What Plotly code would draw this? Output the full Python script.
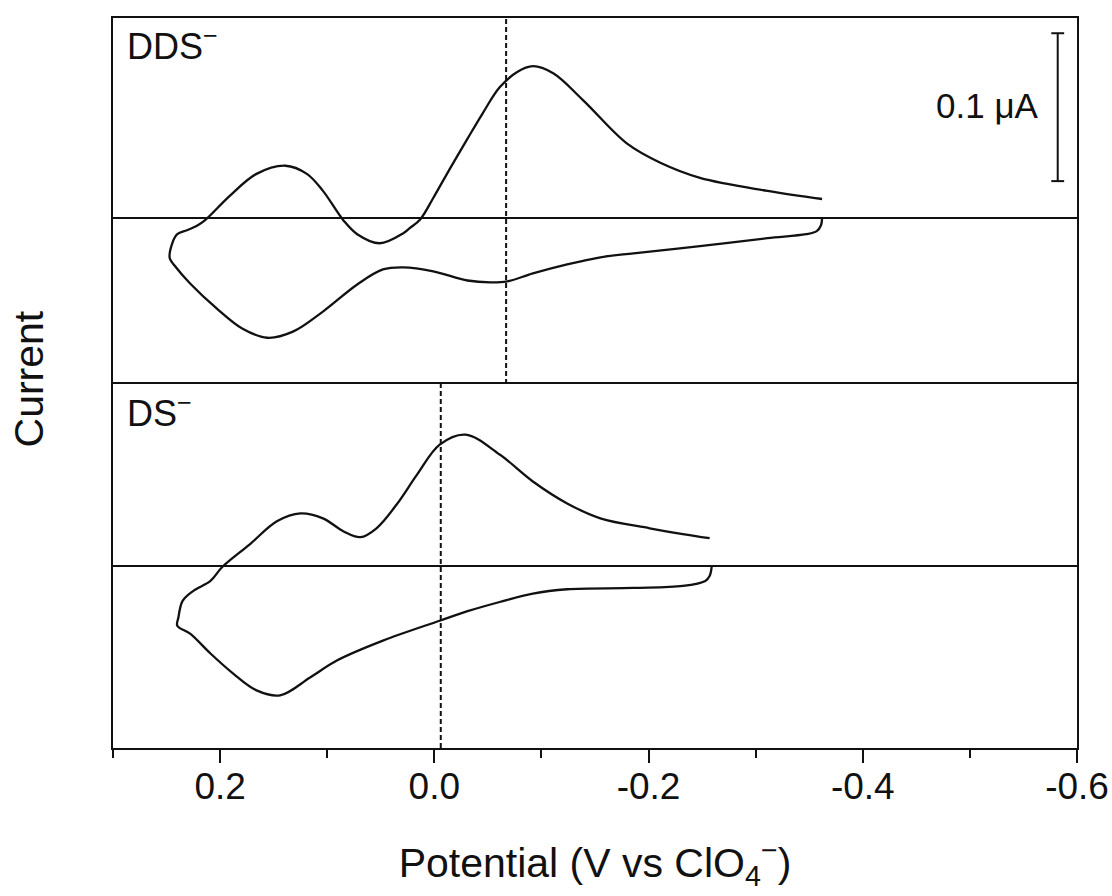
import plotly.graph_objects as go

# DDS- cyclic voltammogram (potential in V vs ClO4-, current in nA)
dds_potential = [-0.362, -0.361, -0.357, -0.347, -0.311, -0.248, -0.186, -0.155, -0.124, -0.092,
                 -0.068, -0.052, -0.031, 0.001, 0.029, 0.048, 0.072, 0.104, 0.132, 0.156,
                 0.179, 0.203, 0.228, 0.242, 0.247, 0.245, 0.240, 0.231, 0.222, 0.214,
                 0.191, 0.166, 0.139, 0.119, 0.104, 0.085, 0.072, 0.051, 0.029, 0.023,
                 0.013, 0.001, -0.015, -0.031, -0.045, -0.061, -0.077, -0.092, -0.111, -0.139,
                 -0.180, -0.211, -0.248, -0.311, -0.362]
dds_current = [0.0, -4.8, -8.8, -10.9, -13.6, -19.0, -23.8, -26.5, -31.3, -37.4,
               -42.8, -43.5, -42.2, -36.0, -33.3, -34.7, -44.9, -63.2, -76.8, -80.9,
               -74.8, -61.2, -44.2, -32.6, -27.2, -17.7, -10.9, -8.2, -5.4, -1.4,
               15.0, 29.9, 35.4, 29.9, 18.4, -1.4, -10.9, -17.0, -10.2, -6.8,
               -0.7, 13.6, 34.0, 53.7, 70.7, 88.4, 98.6, 102.7, 97.9, 79.6,
               50.3, 37.4, 27.2, 18.4, 12.9]

# DS- cyclic voltammogram
ds_potential = [-0.259, -0.257, -0.253, -0.232, -0.186, -0.124, -0.092, -0.061, -0.031, -0.005,
                0.048, 0.091, 0.116, 0.144, 0.166, 0.188, 0.209, 0.228, 0.240, 0.239,
                0.235, 0.225, 0.209, 0.198, 0.172, 0.147, 0.125, 0.104, 0.085, 0.069,
                0.054, 0.035, 0.016, -0.005, -0.029, -0.061, -0.092, -0.124, -0.155, -0.201,
                -0.232, -0.257]
ds_current = [0.0, -6.8, -10.2, -13.6, -15.0, -15.9, -18.8, -24.6, -30.9, -37.4,
              -51.0, -64.6, -76.2, -88.4, -85.0, -73.4, -59.8, -46.2, -40.8, -35.4,
              -23.8, -17.0, -10.2, -0.7, 15.0, 30.6, 36.0, 32.6, 23.8, 19.7,
              25.8, 42.2, 62.6, 83.0, 89.8, 76.2, 57.8, 42.8, 32.6, 25.8,
              21.8, 19.0]

# Formal potentials (dashed lines)
dds_e0 = -0.067
ds_e0 = -0.006

# Scale bar (0.1 uA = 100 nA)
scalebar_x = -0.582
scalebar_y = [25.0, 125.0]
scalebar_label = "0.1 \u03bcA"

x_range = [0.3, -0.6]
major_ticks = [0.2, 0.0, -0.2, -0.4, -0.6]
major_text = ["0.2", "0.0", "-0.2", "-0.4", "-0.6"]
minor_ticks = [0.3, 0.1, -0.1, -0.3, -0.5]

top_range = [-112.2, 135.3]
bot_range = [-124.4, 124.4]

FONT = "Liberation Sans, Arial, sans-serif"
BLACK = "#111111"

fig = go.Figure()
line = dict(color=BLACK, width=2.3, shape="spline", smoothing=1.0)
fig.add_trace(go.Scatter(x=dds_potential, y=dds_current, mode="lines", line=line,
                         xaxis="x2", yaxis="y2", showlegend=False, hoverinfo="skip"))
fig.add_trace(go.Scatter(x=ds_potential, y=ds_current, mode="lines", line=line,
                         xaxis="x", yaxis="y", showlegend=False, hoverinfo="skip"))

shapes = []
# baselines
shapes.append(dict(type="line", xref="x2 domain", yref="y2", x0=0, x1=1, y0=0, y1=0,
                   line=dict(color=BLACK, width=2)))
shapes.append(dict(type="line", xref="x domain", yref="y", x0=0, x1=1, y0=0, y1=0,
                   line=dict(color=BLACK, width=2)))
# dashed lines
shapes.append(dict(type="line", xref="x2", yref="y2 domain", x0=dds_e0, x1=dds_e0, y0=0, y1=1,
                   line=dict(color=BLACK, width=2, dash="5px,3px")))
shapes.append(dict(type="line", xref="x", yref="y domain", x0=ds_e0, x1=ds_e0, y0=0, y1=1,
                   line=dict(color=BLACK, width=2, dash="5px,3px")))
# scale bar
cap = 0.006
shapes.append(dict(type="line", xref="x2", yref="y2", x0=scalebar_x, x1=scalebar_x,
                   y0=scalebar_y[0], y1=scalebar_y[1], line=dict(color=BLACK, width=2)))
for yv in scalebar_y:
    shapes.append(dict(type="line", xref="x2", yref="y2", x0=scalebar_x - cap, x1=scalebar_x + cap,
                       y0=yv, y1=yv, line=dict(color=BLACK, width=2)))

annotations = [
    dict(text=scalebar_label, xref="x2", yref="y2", x=scalebar_x + 0.016, y=sum(scalebar_y) / 2 + 1,
         xanchor="right", yanchor="middle", showarrow=False, font=dict(family=FONT, size=35, color=BLACK)),
    dict(text="DDS<sup>\u2212</sup>", xref="paper", yref="paper", x=0.012, y=0.964,
         xanchor="left", yanchor="middle", showarrow=False, font=dict(family=FONT, size=36, color=BLACK)),
    dict(text="DS<sup>\u2212</sup>", xref="paper", yref="paper", x=0.012, y=0.462,
         xanchor="left", yanchor="middle", showarrow=False, font=dict(family=FONT, size=36, color=BLACK)),
    dict(text="Current", xref="paper", yref="paper", x=-0.087, y=0.505, textangle=-90,
         xanchor="center", yanchor="middle", showarrow=False, font=dict(family=FONT, size=41, color=BLACK)),
]

axis_common = dict(showline=True, linecolor=BLACK, linewidth=2,
                   showgrid=False, zeroline=False, automargin=False)

fig.update_layout(
    width=1112, height=896,
    margin=dict(l=113, r=35, t=18, b=148),
    paper_bgcolor="white", plot_bgcolor="white",
    font=dict(family=FONT, color=BLACK),
    shapes=shapes, annotations=annotations,
    xaxis=dict(**axis_common, mirror=True, range=x_range, anchor="y", domain=[0, 1],
               tickmode="array", tickvals=major_ticks, ticktext=major_text,
               ticks="outside", ticklen=13, tickwidth=2, tickcolor=BLACK,
               ticklabelstandoff=-8,
               tickfont=dict(family=FONT, size=37, color=BLACK),
               minor=dict(tickmode="array", tickvals=minor_ticks, ticks="outside",
                          ticklen=8, tickwidth=2, tickcolor=BLACK),
               title=dict(text="Potential (V vs ClO<sub>4</sub><sup>\u2212</sup>)",
                          font=dict(family=FONT, size=41, color=BLACK), standoff=42)),
    xaxis2=dict(**axis_common, mirror=False, side="top", range=x_range, anchor="y2", matches="x",
                showticklabels=False, ticks=""),
    yaxis=dict(**axis_common, mirror=True, range=bot_range, domain=[0, 0.4986], anchor="x",
               showticklabels=False, ticks=""),
    yaxis2=dict(**axis_common, mirror=True, range=top_range, domain=[0.4986, 1], anchor="x2",
                showticklabels=False, ticks=""),
)

fig.write_html("out.html")
